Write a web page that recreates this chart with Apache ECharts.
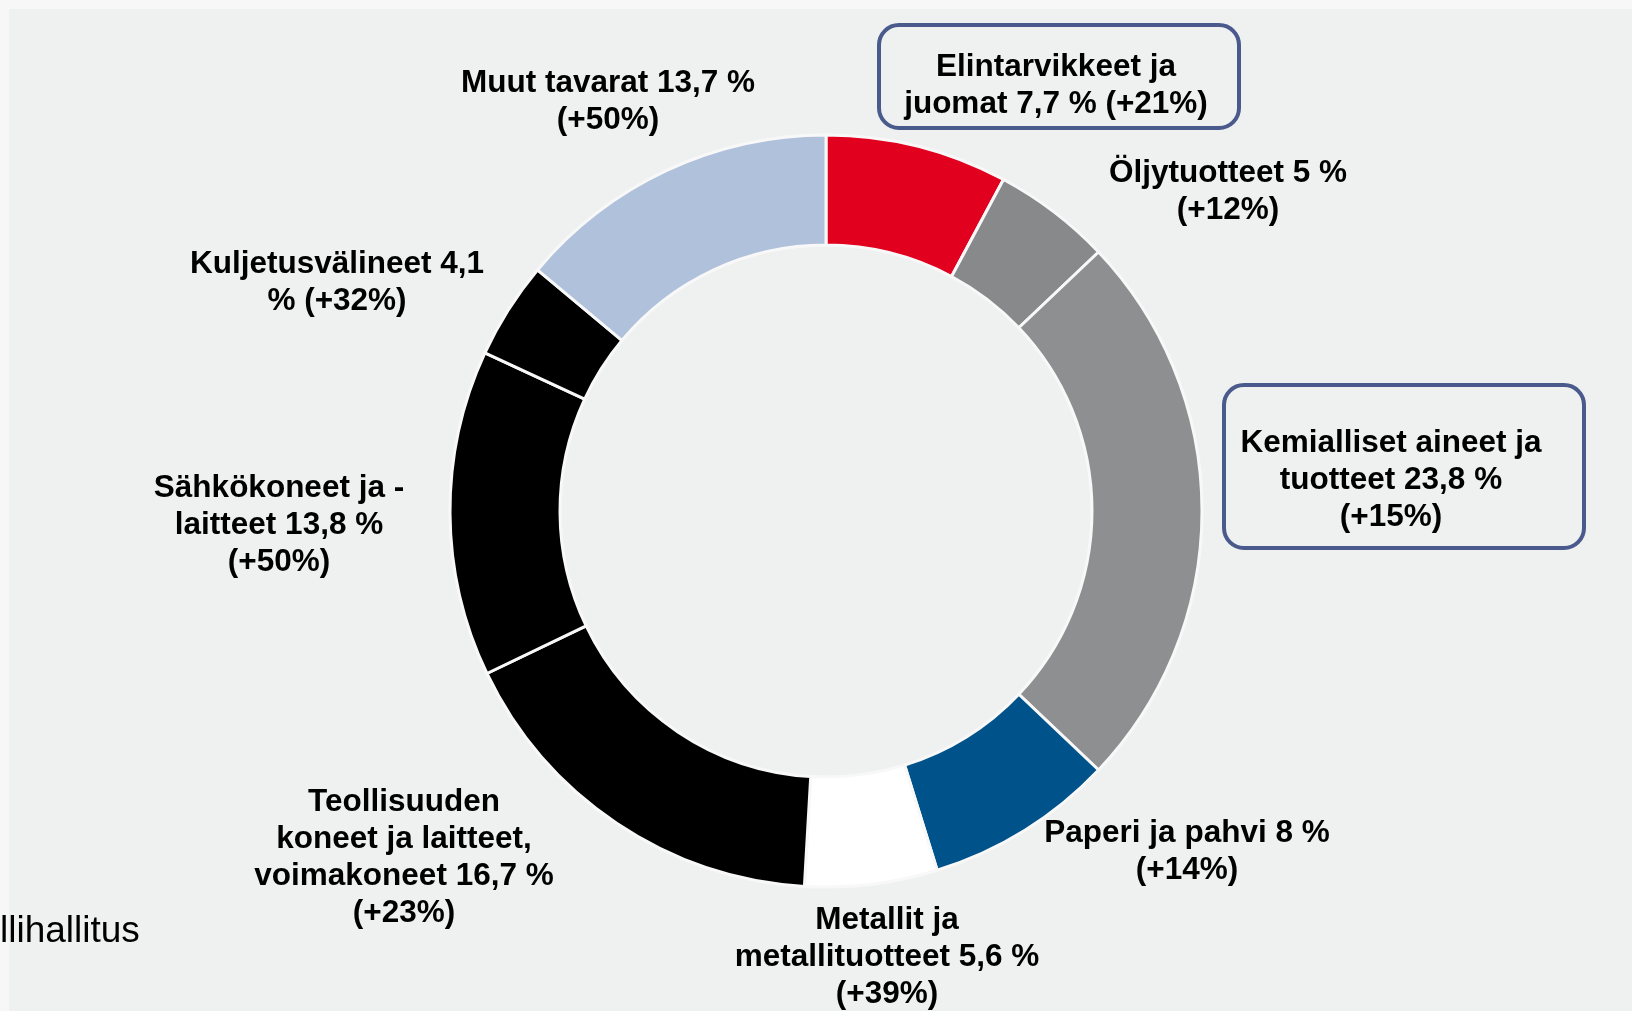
<!DOCTYPE html>
<html>
<head>
<meta charset="utf-8">
<script src="https://cdn.jsdelivr.net/npm/echarts@6/dist/echarts.min.js"></script>
<style>
  html, body { margin: 0; padding: 0; background: #f7f7f7; }
  #chart { width: 1632px; height: 1011px; }
</style>
</head>
<body>
<div id="chart"></div>
<script>
// Tavaraviennin rakenne (osuus %, muutos)
const categories = [
  'Elintarvikkeet ja juomat',
  'Öljytuotteet',
  'Kemialliset aineet ja tuotteet',
  'Paperi ja pahvi',
  'Metallit ja metallituotteet',
  'Teollisuuden koneet ja laitteet, voimakoneet',
  'Sähkökoneet ja -laitteet',
  'Kuljetusvälineet',
  'Muut tavarat'
]
const shares = [7.7, 5, 23.8, 8, 5.6, 16.7, 13.8, 4.1, 13.7]
const labelTexts = [
  'Elintarvikkeet ja\njuomat 7,7 % (+21%)',
  'Öljytuotteet 5 %\n(+12%)',
  'Kemialliset aineet ja\ntuotteet 23,8 %\n(+15%)',
  'Paperi ja pahvi 8 %\n(+14%)',
  'Metallit ja\nmetallituotteet 5,6 %\n(+39%)',
  'Teollisuuden\nkoneet ja laitteet,\nvoimakoneet 16,7 %\n(+23%)',
  'Sähkökoneet ja -\nlaitteet 13,8 %\n(+50%)',
  'Kuljetusvälineet 4,1\n% (+32%)',
  'Muut tavarat 13,7 %\n(+50%)'
]
const sourceText = 'llihallitus'

// värit ja label-paikat (px)
const colors = ['#e2001f', '#88898b', '#8e8f91', '#00528b', '#ffffff', '#000000', '#000000', '#000000', '#b0c1db']
const labelPos = [
  [1056, 86],
  [1228, 192],
  [1391, 480],
  [1187, 852],
  [887, 957],
  [404, 858],
  [279, 525],
  [337, 283],
  [608, 102]
]
// korostuslaatikot [x, y, w, h]
const boxes = [
  [879, 25, 360, 103],
  [1224, 385, 360, 163]
]

const chart = echarts.init(document.getElementById('chart'))

const data = categories.map((name, i) => ({
  name: name,
  value: shares[i],
  itemStyle: { color: colors[i] },
  label: { formatter: labelTexts[i] }
}))

const boxGraphics = boxes.map(b => ({
  type: 'rect',
  z: 5,
  shape: { x: b[0], y: b[1], width: b[2], height: b[3], r: 20 },
  style: { fill: null, stroke: '#4b5a8c', lineWidth: 4 }
}))

const option = {
  backgroundColor: '#eff1f0',
  animation: false,
  graphic: [
    { type: 'rect', left: 0, top: 0, z: 0, shape: { width: 1632, height: 9 }, style: { fill: '#f7f7f7' } },
    { type: 'rect', left: 0, top: 0, z: 0, shape: { width: 9, height: 1011 }, style: { fill: '#f7f7f7' } },
    ...boxGraphics,
    {
      type: 'text',
      left: 0,
      top: 913,
      z: 10,
      style: {
        text: sourceText,
        fill: '#000',
        font: '37px Arial, "Liberation Sans", sans-serif'
      }
    }
  ],
  series: [
    {
      type: 'pie',
      center: [826, 511],
      radius: [266, 376],
      startAngle: 90,
      clockwise: true,
      avoidLabelOverlap: false,
      silent: true,
      itemStyle: {
        borderColor: '#f8f8f8',
        borderWidth: 3
      },
      label: {
        show: true,
        position: 'outside',
        color: '#000',
        fontFamily: 'Arial, "Liberation Sans", sans-serif',
        fontWeight: 'bold',
        fontSize: 31.5,
        lineHeight: 37,
        align: 'center'
      },
      labelLine: { show: false },
      labelLayout: function (params) {
        const p = labelPos[params.dataIndex]
        return { x: p[0], y: p[1], align: 'center', verticalAlign: 'middle' }
      },
      emphasis: { disabled: true },
      data: data
    }
  ]
}

chart.setOption(option)
</script>
</body>
</html>
